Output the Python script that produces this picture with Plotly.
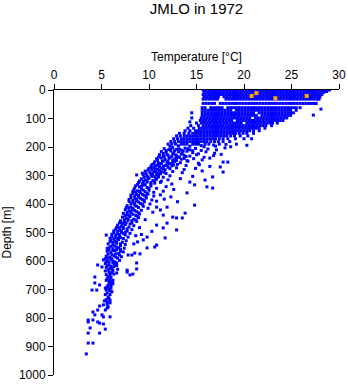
import plotly.graph_objects as go

# ---- surface layer (0-50 m), temperatures read per depth level ----
t_d0 = [15.7,16.0,16.3,16.6,16.9,17.2,17.5,17.8,18.1,18.4,18.7,19.0,19.3,19.6,19.9,20.2,20.5,20.8,21.1,21.4,21.7,22.0,22.3,22.6,22.9,23.2,23.5,23.8,24.1,24.4,24.7,25.0,25.3,25.6,25.9,26.2,26.5,26.8,27.1,27.4,27.7,28.0,28.3,28.6,29.0]
t_d8 = [15.8,16.1,16.4,16.7,17.0,17.3,17.6,17.9,18.2,18.5,18.8,19.1,19.4,19.7,20.0,20.3,20.6,20.9,21.2,21.5,21.8,22.1,22.4,22.7,23.0,23.3,23.6,23.9,24.2,24.5,24.8,25.1,25.4,25.7,26.0,26.3,26.6,26.9,27.2,27.5,27.8,28.1,28.4]
t_d16 = [15.7,16.0,16.3,16.6,16.9,17.2,17.5,17.8,18.1,18.4,18.7,19.0,19.3,19.6,19.9,20.2,20.5,20.8,21.1,21.4,21.7,22.0,22.3,22.6,22.9,23.2,23.5,23.8,24.1,24.4,24.7,25.0,25.3,25.6,25.9,26.2,26.5,26.8,27.1,27.4,27.7,28.0,28.2]
t_d24 = [15.8,16.1,16.4,16.7,17.0,17.3,17.9,18.2,18.5,18.8,19.1,19.4,19.7,20.0,20.3,20.6,20.9,21.2,21.5,21.8,22.1,22.4,22.7,23.0,23.3,23.6,23.9,24.2,24.5,24.8,25.1,25.4,25.7,26.0,26.3,26.6,26.9,27.2,27.5,27.8,28.0]
t_d32 = [15.7,16.0,16.3,16.6,16.9,17.2,18.1,18.4,18.7,19.0,19.3,19.6,19.9,20.2,20.5,20.8,21.1,21.4,21.7,22.0,22.3,22.6,22.9,23.2,23.5,23.8,24.1,24.4,24.7,25.0,25.3,25.6,25.9,26.2,26.5,26.8,27.1,27.4,27.7,27.9]
t_d47 = [15.7,16.0,16.3,16.6,16.9,17.5,17.8,18.1,18.4,18.7,19.0,19.3,19.6,19.9,20.2,20.5,20.8,21.1,21.4,21.7,22.0,22.3,22.6,22.9,23.2,23.5,23.8,24.1,24.4,24.7,25.0,25.3,25.6,25.9,26.2,26.5,26.8,27.1,27.4,27.6]

# ---- upper thermocline (60-195 m) ----
t_d62 = [15.6,15.9,16.5,16.8,17.1,17.4,17.7,18.3,18.6,18.9,19.2,19.5,19.8,20.1,20.4,20.7,21.0,21.3,21.6,21.9,22.2,22.5,22.8,23.1,23.4,23.7,24.0,24.3,24.6,24.9,25.2,25.5,25.9]
t_d71 = [15.6,15.9,16.2,16.5,16.8,17.1,17.4,17.7,18.0,18.3,18.6,19.2,19.5,19.8,20.1,20.4,20.7,21.0,21.3,21.6,21.9,22.2,22.5,22.8,23.1,23.4,23.7,24.0,24.3,24.6,24.9,25.5]
t_d80 = [14.5,15.6,15.9,16.2,16.5,16.8,17.1,17.4,17.7,18.0,18.3,18.6,18.9,19.2,19.5,19.8,20.1,20.4,20.7,21.0,21.6,21.9,22.2,22.5,22.8,23.1,23.4,23.7,24.0,24.3,24.6,24.9,25.2]
t_d89 = [15.6,15.9,16.2,16.5,16.8,17.1,17.4,17.7,18.0,18.3,18.6,18.9,19.2,19.5,19.8,20.1,20.4,20.7,21.0,21.3,21.9,22.2,22.5,22.8,23.1,23.4,23.7,24.0,24.3,24.6,24.9]
t_d98 = [14.5,15.5,15.8,16.1,16.4,16.7,17.0,17.3,17.6,17.9,18.2,18.5,18.8,19.1,19.4,19.7,20.0,20.3,20.6,21.2,21.5,21.8,22.1,22.4,22.7,23.0,23.3,23.6,23.9,24.2,24.5]
t_d107 = [15.4,15.7,16.0,16.3,16.6,16.9,17.2,17.5,17.8,18.1,18.4,18.7,19.3,19.6,19.9,20.2,20.5,20.8,21.1,21.4,21.7,22.0,22.3,22.6,22.9,23.2,23.5,23.8,24.1]
t_d116 = [15.0,15.5,15.8,16.1,16.4,16.7,17.0,17.3,17.6,17.9,18.2,18.5,18.8,19.1,19.4,19.7,20.3,20.6,20.9,21.2,21.5,21.8,22.1,22.4,22.7,23.0,23.5]
t_d125 = [14.4,15.2,15.7,16.0,16.3,16.6,16.9,17.2,17.5,17.8,18.1,18.4,18.7,19.0,19.3,19.6,19.9,20.2,20.5,20.8,21.1,21.4,21.7,22.0,22.3,22.9]
t_d134 = [14.1,14.7,15.3,15.6,15.9,16.2,16.5,16.8,17.1,17.4,17.7,18.0,18.3,18.6,18.9,19.2,19.5,19.8,20.1,20.4,20.7,21.0,21.3,21.6,22.2]
t_d143 = [13.8,14.3,14.9,15.2,15.5,15.8,16.1,16.4,16.7,17.0,17.3,17.6,17.9,18.2,18.5,18.8,19.1,19.4,19.7,20.0,20.3,20.6,21.0,21.6]
t_d152 = [13.2,13.7,14.2,14.6,14.9,15.2,15.5,15.8,16.1,16.4,16.7,17.0,17.3,17.6,17.9,18.2,18.5,18.8,19.1,19.5,19.9,20.3,21.0]
t_d161 = [12.9,13.3,13.7,14.0,14.3,14.6,14.9,15.2,15.5,15.8,16.1,16.4,16.7,17.0,17.3,17.6,17.9,18.2,18.6,19.0,19.6,20.4]
t_d171 = [12.6,13.0,13.4,13.7,14.0,14.3,14.6,14.9,15.2,15.5,15.8,16.1,16.4,16.7,17.0,17.4,17.8,18.3,19.1,20.0,20.8]
t_d181 = [12.3,12.7,13.1,13.4,13.7,14.0,14.3,14.6,14.9,15.2,15.5,15.8,16.1,16.5,16.9,17.3,17.8,18.5]
t_d190 = [12.0,12.4,12.8,13.4,13.7,14.0,14.6,14.9,15.2,15.9,16.3,17.4,19.2]

# ---- thermocline and intermediate water: individual (temperature, depth) readings ----
thermo_points = [
    (11.6,206),(12.1,209),(12.5,202),(12.9,208),(13.4,211),(13.8,204),(14.3,210),(14.9,205),(15.5,212),(16.2,207),(17.1,210),(18.0,203),(18.6,199),(17.0,197),(15.8,199),
    (13.1,196),(14.3,197),(15.5,195),(16.8,193),(18.1,191),(20.3,194),(12.2,197),
    (11.3,216),(11.8,219),(12.3,214),(12.6,221),(13.1,217),(13.5,222),(14.0,215),(14.6,220),(15.2,224),(16.0,217),(16.9,222),
    (11.1,227),(11.5,231),(11.9,226),(12.4,233),(12.8,228),(13.2,235),(13.7,229),(14.3,232),(15.0,227),(15.8,236),(16.8,230),(17.6,226),
    (10.8,241),(11.3,238),(11.7,244),(12.1,240),(12.5,246),(12.9,239),(13.4,243),(14.0,248),(14.7,241),(15.6,245),(16.4,239),
    (10.6,252),(11.0,256),(11.5,250),(11.9,254),(12.3,258),(12.7,251),(13.3,255),(14.1,250),(15.2,257),(17.8,253),(18.3,253),
    (10.3,262),(10.7,266),(11.1,261),(11.5,268),(11.9,263),(12.4,266),(13.0,261),(13.9,265),(15.3,262),(16.4,268),(17.5,270),
    (10.0,275),(10.5,272),(10.9,278),(11.3,274),(11.7,280),(12.2,276),(12.9,273),(13.7,279),(14.9,275),(17.8,288),
    (9.6,285),(10.1,289),(10.5,284),(10.9,291),(11.3,287),(11.8,293),(12.5,286),(13.5,290),(15.6,284),
    (8.7,298),(9.4,297),(9.8,302),(10.2,296),(10.6,304),(11.0,299),(11.5,306),(12.2,301),(14.6,303),(16.7,305),
    (9.2,312),(9.6,316),(10.0,310),(10.4,318),(10.8,313),(11.3,320),(12.0,315),(13.3,311),(15.9,316),(14.3,323),
    (8.9,325),(9.3,329),(9.8,323),(10.2,331),(10.6,327),(11.2,324),(12.4,330),
    (8.6,336),(9.0,340),(9.4,334),(9.8,342),(10.2,337),(10.8,345),(11.8,339),(14.8,333),(16.1,340),(16.7,344),
    (8.4,350),(8.8,354),(9.2,348),(9.6,357),(10.0,352),(10.5,359),(11.5,355),(12.6,349),
    (8.3,363),(8.7,367),(9.1,361),(9.5,370),(9.9,365),(10.5,372),(14.0,361),(11.2,368),
    (8.1,377),(8.5,381),(8.9,375),(9.3,384),(9.7,379),(10.3,386),(12.3,375),(11.6,383),
    (7.9,391),(8.3,395),(8.7,389),(9.1,398),(9.5,393),(10.1,400),(13.0,392),(10.8,390),
    (7.7,406),(8.1,410),(8.5,404),(8.9,412),(9.4,408),(10.8,411),(11.9,411),(14.8,404),(9.9,415),
    (7.5,420),(7.9,424),(8.3,418),(8.7,427),(9.2,422),(11.2,421),(10.4,429),
    (7.3,433),(7.7,437),(8.1,431),(8.6,440),(9.0,435),(13.8,432),(11.5,439),
    (7.2,446),(7.6,450),(8.0,444),(8.4,453),(8.9,448),(12.5,446),(13.5,449),(9.6,455),
    (7.0,459),(7.4,463),(7.8,457),(8.2,466),(8.7,461),(12.9,449),(11.9,467),(10.8,474),
    (6.7,474),(7.1,478),(7.5,472),(7.9,481),(8.4,476),(11.5,484),(9.0,483),
    (6.5,488),(6.9,492),(7.3,486),(7.7,495),(8.2,490),(12.9,491),(10.3,496),
    (6.3,501),(6.7,505),(7.1,499),(7.5,508),(8.0,503),(9.2,507),
    (5.5,509),(6.1,514),(6.5,518),(6.9,512),(7.3,521),(7.8,516),(8.6,511),(9.8,516),(11.7,519),
    (6.0,527),(6.4,531),(6.8,525),(7.2,534),(7.6,529),(9.4,526),(8.8,533),
    (5.7,540),(6.2,544),(6.6,538),(7.0,547),(7.5,542),(8.4,540),(10.8,544),
    (5.8,553),(6.2,557),(6.6,551),(7.0,560),(7.4,555),(9.8,554),(10.6,551),
    (5.6,566),(6.0,570),(6.4,564),(6.8,573),(7.3,568),(8.5,572),(9.05,575),(8.2,579),(7.8,579),
    (5.5,583),(5.9,587),(6.3,581),(6.7,590),(7.1,585),
    (5.2,596),(5.6,600),(6.0,594),(6.4,603),(6.9,598),
    (5.4,609),(5.8,613),(6.2,607),(6.6,616),(4.6,614),(5.05,621),(8.7,607),
    (5.5,622),(5.9,626),(6.3,620),(6.7,629),(8.7,628),(8.3,646),(7.7,639),(8.0,649),
    (5.4,635),(5.8,639),(6.2,633),(6.6,642),(7.7,632),
    (4.3,656),(5.5,648),(5.9,652),(6.3,646),
]

# ---- dense core of the thermocline (additional readings) ----
core_points = [
    (11.8,212),(12.3,206),(12.7,213),(13.2,207),(13.6,214),(14.1,206),(14.6,213),
    (11.5,223),(12.0,229),(12.5,224),(12.9,231),(13.4,225),(13.9,233),
    (11.0,236),(11.6,234),(12.2,237),(12.7,242),(13.1,236),(13.7,240),
    (10.9,247),(11.4,249),(12.0,250),(12.5,254),(12.9,247),
    (10.5,259),(10.9,264),(11.3,258),(11.7,265),(12.1,259),(12.6,263),
    (10.2,269),(10.7,277),(11.1,270),(11.5,277),(12.0,271),
    (9.9,281),(10.3,279),(10.7,287),(11.1,282),(11.6,289),
    (9.3,292),(9.7,294),(10.4,293),(10.8,297),(11.2,294),
    (9.5,306),(9.9,307),(10.3,303),(10.7,309),(11.0,305),
    (9.0,319),(9.4,321),(9.8,318),(10.6,320),(10.2,325),
    (8.8,331),(9.2,338),(9.6,332),(10.0,345),(8.5,344),
    (8.6,358),(9.0,356),(9.4,351),(9.8,363),(8.3,356),
    (8.5,372),(8.9,370),(9.3,366),(9.7,374),(8.1,369),
    (8.3,387),(8.7,383),(9.1,380),(9.5,388),(7.9,384),
    (8.1,399),(8.5,397),(8.9,393),(9.3,402),
    (7.9,414),(8.3,416),(8.7,408),(7.6,413),
    (7.7,429),(8.1,426),(8.5,423),(8.9,431),
    (7.5,441),(7.9,440),(8.3,436),(8.8,443),
    (7.4,455),(7.8,452),(8.2,458),(8.6,456),
    (7.2,468),(7.6,466),(8.0,470),(6.9,466),
    (6.9,483),(7.3,481),(7.7,487),(6.6,482),
    (6.7,496),(7.1,494),(7.5,499),(6.3,494),
    (6.5,509),(6.9,507),(7.3,504),(6.1,506),
    (6.3,522),(6.7,521),(7.0,518),(5.9,520),
    (6.2,535),(6.6,533),(7.0,540),(5.9,532),
    (6.0,548),(6.4,547),(6.8,554),(5.6,556),
    (5.8,561),(6.2,563),(6.6,560),(7.0,566),
    (5.7,576),(6.1,578),(6.5,575),(6.9,579),
    (5.7,590),(6.1,592),(6.5,586),(5.4,592),
    (5.8,603),(6.2,601),(6.6,607),(5.5,604),
    (5.6,617),(6.0,619),(6.4,612),(5.7,631),(6.1,628),(5.9,645),(6.1,640),
]

# ---- deep individual observations (temperature, depth) ----
deep_points = [(5.6,662),(5.9,665),(6.2,668),(4.3,677),(4.8,684),(5.9,677),(6.2,680),
               (5.6,690),(6.0,695),(5.4,695),(5.8,700),(4.0,702),(4.5,702),(6.1,708),
               (5.6,712),(5.9,718),(5.4,718),(5.7,726),(5.5,735),(5.3,740),(5.6,744),
               (5.9,747),(5.7,761),(5.6,765),(5.4,772),(4.8,758),(5.2,754),(4.6,772),
               (4.1,779),(4.3,789),(5.05,789),(5.2,796),(5.9,796),(4.1,807),(3.6,807),
               (4.6,814),(4.8,818),(5.2,821),(3.6,814),(3.8,835),(5.4,839),(3.6,853),
               (4.8,853),(3.6,888),(4.1,888),(3.4,926),
               (5.7,655),(6.0,658),(5.5,668),(5.8,672),(6.1,674),(5.7,684),(6.0,686),
               (5.5,702),(5.9,705),(5.7,692),(5.8,732),(5.6,752),(5.9,738)]

# ---- isolated outliers in the upper layer ----
extra_points = [(28.7,5),(28.1,67),(27.3,88),(14.3,112)]

# ---- flagged observations (orange) ----
flag_temp = [21.3, 20.8, 23.3, 26.6]
flag_depth = [11, 21, 29, 21]

rows = [(0,t_d0),(8,t_d8),(16,t_d16),(24,t_d24),(32,t_d32),(47,t_d47),
        (62,t_d62),(71,t_d71),(80,t_d80),(89,t_d89),(98,t_d98),(107,t_d107),
        (116,t_d116),(125,t_d125),(134,t_d134),(143,t_d143),(152,t_d152),
        (161,t_d161),(171,t_d171),(181,t_d181),(190,t_d190)]

x_tick_vals = [0, 5, 10, 15, 20, 25, 30]
y_tick_vals = [0, 100, 200, 300, 400, 500, 600, 700, 800, 900, 1000]

temps, depths = [], []
for d, ts in rows:
    temps.extend(ts)
    depths.extend([d] * len(ts))
for t, d in thermo_points + core_points + deep_points + extra_points:
    temps.append(t)
    depths.append(d)

FONT = "Liberation Sans, Arial, sans-serif"

fig = go.Figure()
fig.add_trace(go.Scatter(
    x=temps, y=depths, mode="markers",
    marker=dict(symbol="square", size=3, color="#0000ff", line=dict(width=0)),
    hoverinfo="skip"))
fig.add_trace(go.Scatter(
    x=flag_temp, y=flag_depth, mode="markers",
    marker=dict(symbol="square", size=4, color="orange", line=dict(width=0)),
    hoverinfo="skip"))

fig.update_layout(
    width=348, height=384,
    margin=dict(l=54, r=9, t=90, b=9),
    paper_bgcolor="white", plot_bgcolor="white",
    showlegend=False,
    font=dict(family=FONT, size=12, color="black"),
    title=dict(text="JMLO in 1972", x=0.5, xref="paper", xanchor="center",
               y=1 - 9 / 384, yref="container", yanchor="middle",
               font=dict(family=FONT, size=15, color="black")),
)
fig.update_xaxes(
    side="top", range=[0, 30], tickmode="array", tickvals=x_tick_vals,
    ticks="outside", ticklen=5, tickcolor="black", tickwidth=1,
    showline=True, linecolor="black", linewidth=1,
    showgrid=False, zeroline=False, automargin=False,
    title=dict(text="Temperature [°C]", standoff=4, font=dict(family=FONT, size=12)),
)
fig.update_yaxes(
    range=[1000, 0], tickmode="array", tickvals=y_tick_vals,
    ticks="outside", ticklen=5, tickcolor="black", tickwidth=1,
    showline=True, linecolor="black", linewidth=1,
    showgrid=False, zeroline=False, automargin=False,
    title=dict(text="Depth [m]", standoff=4, font=dict(family=FONT, size=12)),
)

fig.write_html("out.html", config={"displayModeBar": False},
               post_script="document.body.style.margin='0';")
